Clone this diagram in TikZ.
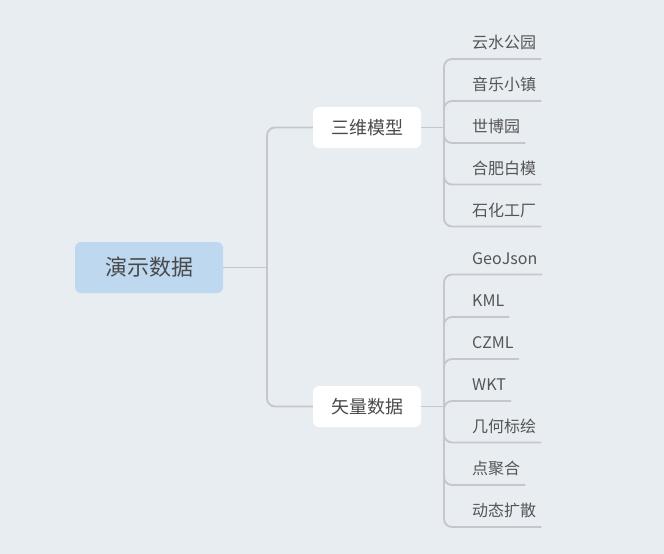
\documentclass[tikz,border=0pt]{standalone}
\usepackage{fontspec}
\setmainfont{Noto Sans CJK SC}
\usepackage{tikz}
\usetikzlibrary{positioning, calc}

\definecolor{bgcol}{HTML}{E8EDF2}
\definecolor{rootcol}{HTML}{BDD8EF}
\definecolor{linecol}{HTML}{C6C7CC}
\definecolor{txtcol}{HTML}{4A4A4A}
\definecolor{leafcol}{HTML}{555555}

\tikzset{
  conn/.style={draw=linecol, line width=1.9pt},
  rootbox/.style={fill=rootcol, rounded corners=6pt, minimum width=148pt, minimum height=51pt,
    text=txtcol, font=\fontsize{22}{26}\selectfont, inner sep=0pt},
  midbox/.style={fill=white, rounded corners=6pt, minimum width=108pt, minimum height=41pt,
    text=txtcol, font=\fontsize{18}{22}\selectfont, inner sep=0pt},
  leaf/.style={anchor=south west, text=leafcol, font=\fontsize{16}{19}\selectfont,
    text height=12pt, text depth=4pt, inner xsep=5pt, inner ysep=6pt}
}

\begin{document}
\begin{tikzpicture}[x=1pt, y=-1pt]
% Background
\fill[bgcol] (0,0) rectangle (664,554);
\useasboundingbox (0,0) rectangle (664,554);

% Root and branches
\node[rootbox] (root) at (149,267.5) {演示数据};
\node[midbox] (model) at (367,127.5) {三维模型};
\node[midbox] (vector) at (367,406.5) {矢量数据};

\draw[conn] (root.east) -- (267,267.5) coordinate (rj);
\draw[conn, rounded corners=8pt] (model.west) -| (rj) |- (vector.west);

% Leaves of the model branch
\draw[conn] (model.east) -- (444,127.5) coordinate (mj);
\foreach \nm/\txt/\y in {m1/云水公园/59, m2/音乐小镇/101, m3/世博园/143, m4/合肥白模/184.5, m5/石化工厂/226.5}{
  \node[leaf] (\nm) at (467,\y) {\txt};
  \draw[conn, rounded corners=8pt] (mj) |- (\nm.south east);
}

% Leaves of the vector branch
\draw[conn] (vector.east) -- (444,406.5) coordinate (vj);
\foreach \nm/\txt/\y in {v1/GeoJson/274.5, v2/KML/317, v3/CZML/359, v4/WKT/401, v5/几何标绘/442.5, v6/点聚合/485, v7/动态扩散/527}{
  \node[leaf] (\nm) at (467,\y) {\txt};
  \draw[conn, rounded corners=8pt] (vj) |- (\nm.south east);
}
\end{tikzpicture}
\end{document}
